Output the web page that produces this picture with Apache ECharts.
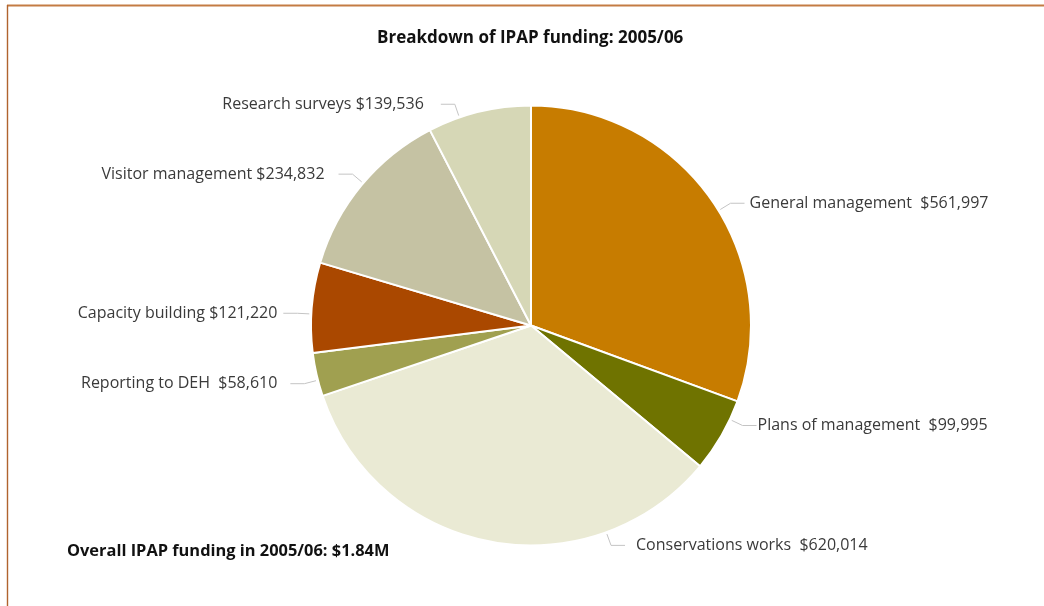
<!DOCTYPE html>
<html>
<head>
<meta charset="utf-8">
<script src="https://cdn.jsdelivr.net/npm/echarts@6/dist/echarts.min.js"></script>
<style>
html,body{margin:0;padding:0;background:#fff;}
#chart{width:1044px;height:606px;}
</style>
</head>
<body>
<div id="chart"></div>
<script>
// ---- data ----
const categories = ['General management', 'Plans of management', 'Conservations works', 'Reporting to DEH', 'Capacity building', 'Visitor management', 'Research surveys'];
const values = [561997, 99995, 620014, 58610, 121220, 234832, 139536];
const separators = ['  ', '  ', '  ', '  ', ' ', ' ', ' '];
const colors = ['#C77C00', '#6F7300', '#EAEAD4', '#A0A050', '#AA4800', '#C5C2A3', '#D6D7B6'];
const titleText = 'Breakdown of IPAP funding: 2005/06';
const footText = 'Overall IPAP funding in 2005/06: $1.84M';

// label placement style: anchor angle (deg clockwise from 12 o'clock) and text gap
const labelAngles = [58.5, 115.3, 160.0, 255.6, 273.0, 310.3, 341.0];
const labelGaps = [5, 1, 11, 13, 6, 14, 17];

const CX = 531, CY = 325.5, R = 220;
const LEN1 = 12, LEN2 = 14;
const FONT = '"Open Sans", "Noto Sans", sans-serif';

const chart = echarts.init(document.getElementById('chart'));

const data = categories.map((c, i) => ({ name: c, value: values[i], itemStyle: { color: colors[i] } }));

chart.setOption({
  animation: false,
  title: {
    text: titleText,
    left: 377,
    top: 30,
    padding: 0,
    textStyle: { fontFamily: FONT, fontSize: 17, fontWeight: 'bold', color: '#111' }
  },
  graphic: [
    { type: 'line', shape: { x1: 7, y1: 5.5, x2: 1044, y2: 5.5 }, style: { stroke: '#C47C44', lineWidth: 1.8 } },
    { type: 'line', shape: { x1: 7.5, y1: 5, x2: 7.5, y2: 606 }, style: { stroke: '#B0632E', lineWidth: 1.4 } },
    { type: 'text', left: 67, top: 543, style: { text: footText, font: 'bold 16.4px ' + FONT, fill: '#111' } }
  ],
  series: [{
    type: 'pie',
    center: [CX, CY],
    radius: [0, R],
    startAngle: 90,
    clockwise: true,
    data: data,
    itemStyle: { borderColor: '#fff', borderWidth: 2 },
    emphasis: { disabled: true },
    label: {
      show: true,
      position: 'outside',
      fontFamily: FONT,
      fontSize: 16,
      color: '#3a3a3a',
      formatter: p => p.name + separators[p.dataIndex] + '$' + p.value.toLocaleString('en-US')
    },
    labelLine: { show: true, length: LEN1, length2: LEN2, lineStyle: { color: '#c4c4c4', width: 1 } },
    labelLayout: function (p) {
      const i = p.dataIndex;
      const a = labelAngles[i] * Math.PI / 180;
      const sx = Math.sin(a), sy = -Math.cos(a);
      const r0 = R + 2, r1 = R + 2 + LEN1;
      const p0 = [CX + r0 * sx, CY + r0 * sy];
      const p1 = [CX + r1 * sx, CY + r1 * sy];
      const dir = sx >= 0 ? 1 : -1;
      const p2 = [p1[0] + dir * LEN2, p1[1]];
      return {
        x: p2[0] + dir * labelGaps[i],
        y: p2[1],
        align: dir > 0 ? 'left' : 'right',
        verticalAlign: 'middle',
        labelLinePoints: [p0, p1, p2]
      };
    }
  }]
});
</script>
</body>
</html>
